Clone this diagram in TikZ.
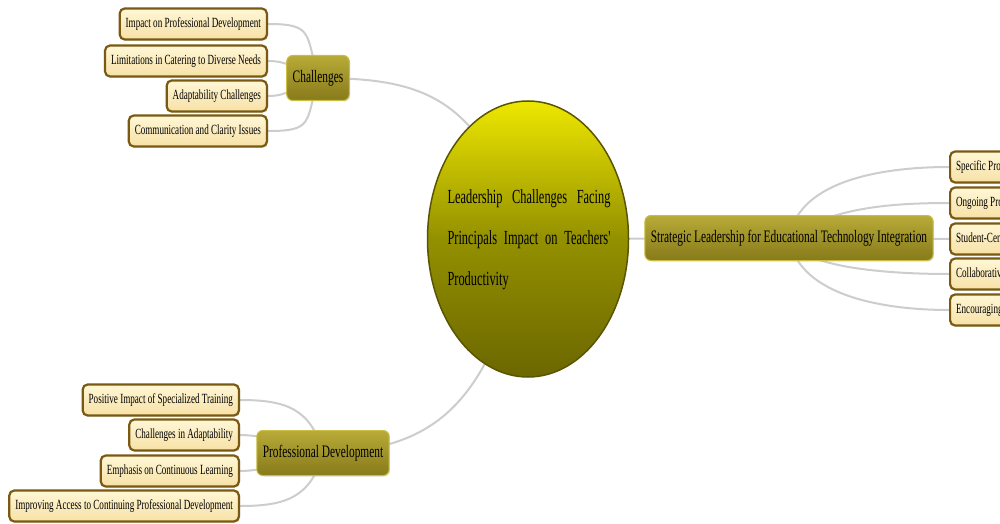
\documentclass[tikz,border=0pt]{standalone}
\usepackage{fontspec}
\newfontfamily\nf[FakeStretch=0.65]{Liberation Serif}
\newfontfamily\cf[FakeStretch=0.62]{Liberation Serif}
\usetikzlibrary{backgrounds,shadows,shapes.geometric}
\definecolor{edgegray}{HTML}{CDCDCD}
\definecolor{boxborder}{HTML}{7A5A12}
\definecolor{creamtop}{HTML}{FFF7D6}
\definecolor{creambot}{HTML}{F7E1A6}
\definecolor{olivetop}{HTML}{B8AB38}
\definecolor{olivebot}{HTML}{877A1A}
\definecolor{oliveborder}{HTML}{C9BD45}
\definecolor{maintop}{HTML}{EEE700}
\definecolor{mainmid}{HTML}{939000}
\definecolor{mainbot}{HTML}{6C6700}
\definecolor{mainborder}{HTML}{5A5500}
\tikzset{
  x=1pt, y=-1pt,
  leaf/.style={draw=boxborder, line width=2.2pt, rounded corners=5pt,
    top color=creamtop, bottom color=creambot, minimum height=31pt,
    inner xsep=6pt, inner ysep=0pt, text=black,
    font=\nf\fontsize{14}{14}\selectfont,
    drop shadow={opacity=0.25, shadow xshift=1.2pt, shadow yshift=-1.2pt}},
  branch/.style={draw=oliveborder, line width=1pt, rounded corners=6pt,
    top color=olivetop, bottom color=olivebot, minimum height=45pt,
    inner xsep=6pt, text=black, font=\nf\fontsize{17.5}{18}\selectfont,
    drop shadow={opacity=0.2, shadow xshift=1pt, shadow yshift=-1pt}},
  mainnode/.style={ellipse, draw=mainborder, line width=1.5pt,
    minimum width=201pt, minimum height=276pt, inner sep=0pt,
    top color=maintop, bottom color=mainbot, middle color=mainmid},
  link/.style={draw=edgegray, line width=2pt},
}
\begin{document}
\begin{tikzpicture}
\useasboundingbox (0,0) rectangle (1000,524);
\begin{scope}[on background layer]
  \fill[white] (0,0) rectangle (1000,524);
\end{scope}
\clip (0,0) rectangle (1000,524);

% central node
\node[mainnode] (M) at (528,239) {};
\node[text width=163pt, align=left, inner sep=0pt, font=\cf\fontsize{20}{41}\selectfont] (Mt) at (529,240)
  {\hbox to 163pt{Leadership\hfill Challenges\hfill Facing}\par
   \hbox to 163pt{Principals\hfill Impact\hfill on\hfill Teachers'}\par
   \hbox to 163pt{Productivity\hfill}};

% branches
\node[branch] (C) at (318,78) {Challenges};
\node[branch] (S) at (789,238) {Strategic Leadership for Educational Technology Integration};
\node[branch] (P) at (323,453) {Professional Development};

% Challenges leaves
\node[leaf, anchor=east] (c1) at (268,24) {Impact on Professional Development};
\node[leaf, anchor=east] (c2) at (268,61) {Limitations in Catering to Diverse Needs};
\node[leaf, anchor=east] (c3) at (268,96) {Adaptability Challenges};
\node[leaf, anchor=east] (c4) at (268,131) {Communication and Clarity Issues};

% Strategic leaves
\node[leaf, anchor=west] (r1) at (949,167) {Specific Professional Development};
\node[leaf, anchor=west] (r2) at (949,203) {Ongoing Professional Support};
\node[leaf, anchor=west] (r3) at (949,239) {Student-Centered Approach};
\node[leaf, anchor=west] (r4) at (949,274) {Collaborative Learning};
\node[leaf, anchor=west] (r5) at (949,310) {Encouraging Innovation};

% Professional Development leaves
\node[leaf, anchor=east] (p1) at (240,400) {Positive Impact of Specialized Training};
\node[leaf, anchor=east] (p2) at (240,435) {Challenges in Adaptability};
\node[leaf, anchor=east] (p3) at (240,471) {Emphasis on Continuous Learning};
\node[leaf, anchor=east] (p4) at (240,506) {Improving Access to Continuing Professional Development};

\begin{scope}[on background layer]
  % main connectors
  \draw[link] (C.center) .. controls (430,78) and (480,100) .. (M.center);
  \draw[link] (M.center) -- (S.center);
  \draw[link] (P.center) .. controls (440,450) and (490,400) .. (M.center);
  % Challenges
  \draw[link] (C.center) .. controls +(-12,-45) and +(45,0) .. (c1.east);
  \draw[link] (C.center) .. controls +(-25,-10) and +(20,0) .. (c2.east);
  \draw[link] (C.center) .. controls +(-25,10) and +(20,0) .. (c3.east);
  \draw[link] (C.center) .. controls +(-12,45) and +(45,0) .. (c4.east);
  % Strategic
  \draw[link] (S.center) .. controls +(10,-60) and +(-60,0) .. (r1.west);
  \draw[link] (S.center) .. controls +(40,-30) and +(-60,0) .. (r2.west);
  \draw[link] (S.center) -- (r3.west);
  \draw[link] (S.center) .. controls +(10,30) and +(-60,0) .. (r4.west);
  \draw[link] (S.center) .. controls +(10,60) and +(-60,0) .. (r5.west);
  % Professional Development
  \draw[link] (P.center) .. controls +(-12,-45) and +(45,0) .. (p1.east);
  \draw[link] (P.center) .. controls +(-25,-10) and +(20,0) .. (p2.east);
  \draw[link] (P.center) .. controls +(-25,10) and +(20,0) .. (p3.east);
  \draw[link] (P.center) .. controls +(-12,45) and +(45,0) .. (p4.east);
\end{scope}
\end{tikzpicture}
\end{document}
